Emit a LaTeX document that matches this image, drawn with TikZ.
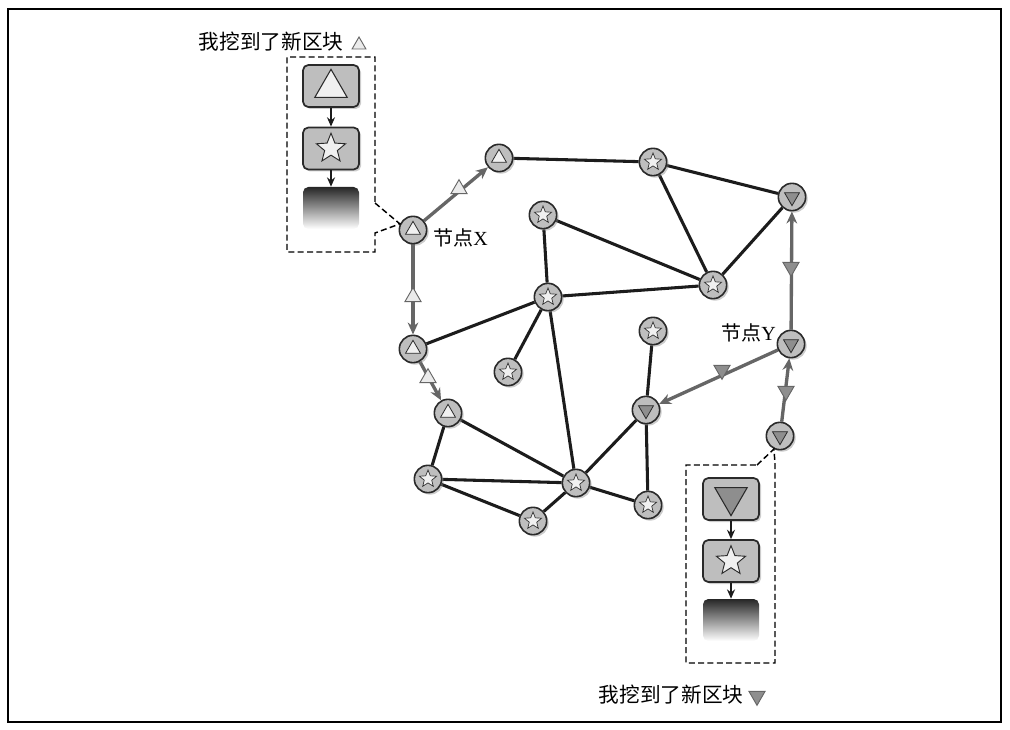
\documentclass[tikz,border=0pt]{standalone}
\usepackage{fontspec}
\setmainfont{Liberation Serif}
\newfontfamily\cjk{Noto Sans CJK SC}
\usetikzlibrary{shapes.geometric,shadows,backgrounds,arrows.meta,calc}

\definecolor{nodegray}{HTML}{BEBEBE}
\definecolor{edgeblack}{HTML}{1C1C1C}
\definecolor{arrowgray}{HTML}{666666}
\definecolor{downgray}{HTML}{8E8E8E}
\definecolor{rimgray}{HTML}{2A2A2A}

\tikzset{
  peer/.style={circle, draw=rimgray, line width=1.2pt, fill=nodegray, minimum size=20.5pt, inner sep=0pt,
    drop shadow={shadow xshift=1.5pt, shadow yshift=-1.5pt, opacity=0.4}},
  upsym/.style={regular polygon, regular polygon sides=3, draw=rimgray, line width=0.6pt, fill=white!94!black, inner sep=0pt, minimum size=#1},
  downsym/.style={regular polygon, regular polygon sides=3, shape border rotate=180, draw=rimgray, line width=0.6pt, fill=downgray, inner sep=0pt, minimum size=#1},
  starsym/.style={star, star points=5, star point ratio=2.3, draw=rimgray, line width=0.5pt, fill=white!94!black, inner sep=0pt, minimum size=#1},
  link/.style={draw=edgeblack, line width=2.3pt},
  prop/.style={draw=arrowgray, line width=2.5pt, -{Stealth[length=9pt,width=8pt]}},
  blockbox/.style={rounded corners=4pt, draw=rimgray, line width=1.3pt, fill=nodegray, minimum width=42pt, minimum height=31.5pt, inner sep=0pt,
    drop shadow={shadow xshift=1.5pt, shadow yshift=-1.5pt, opacity=0.4}},
  fadebox/.style={rounded corners=4pt, top color=black!85, bottom color=white, minimum width=42pt, minimum height=31.5pt, inner sep=0pt},
  chainarrow/.style={draw=edgeblack, line width=1.3pt, -{Stealth[length=7pt,width=6pt]}},
  areabox/.style={draw=black, line width=1.1pt, dash pattern=on 4.5pt off 2.5pt},
  upmark/.style={regular polygon, regular polygon sides=3, draw=arrowgray, line width=0.7pt, fill=white!92!black, inner sep=0pt, minimum size=#1},
  downmark/.style={regular polygon, regular polygon sides=3, shape border rotate=180, draw=arrowgray, line width=0.7pt, fill=downgray, inner sep=0pt, minimum size=#1},
  cjklabel/.style={font=\cjk\fontsize{15.5}{18}\selectfont, inner sep=0pt},
  peerlabel/.style={font=\fontsize{15}{18}\selectfont, inner sep=0pt},
}

\newcommand\peerup[2]{\node[peer] (#1) at (#2) {}; \node[upsym=13pt] (#1s) at (#1) {};}
\newcommand\peerdown[2]{\node[peer] (#1) at (#2) {}; \node[downsym=13pt] (#1s) at (#1) {};}
\newcommand\peerstar[2]{\node[peer] (#1) at (#2) {}; \node[starsym=13.5pt] (#1s) at (#1) {};}

\begin{document}
\begin{tikzpicture}[x=0.75pt,y=-0.75pt]
\useasboundingbox (0,0) rectangle (1010,730);
\draw[line width=0.8pt] (8,9) rectangle (1001,722);

% peers
\peerup{A1}{499,158}
\peerstar{S1}{653,162}
\peerdown{D1}{792,197}
\peerup{X}{413,230}
\peerstar{S2}{543,215}
\peerstar{S3}{713,285}
\peerstar{S4}{548,297}
\peerdown{Y}{791,344}
\peerup{T2}{413,349}
\peerstar{S5}{653,331}
\peerstar{S6}{508,372}
\peerdown{D2}{646,410}
\peerup{T3}{448,413}
\peerdown{D3}{780,436}
\peerstar{S7}{428,479}
\peerstar{S8}{576,483}
\peerstar{S9}{648,505}
\peerstar{S10}{533,521}

\begin{pgfonlayer}{background}
  \draw[link] (A1) -- (S1);
  \draw[link] (S1) -- (D1);
  \draw[link] (S1) -- (S3);
  \draw[link] (D1) -- (S3);
  \draw[link] (S2) -- (S3);
  \draw[link] (S2) -- (S4);
  \draw[link] (S4) -- (S3);
  \draw[link] (S4) -- (T2);
  \draw[link] (S4) -- (S6);
  \draw[link] (S4) -- (S8);
  \draw[link] (S5) -- (D2);
  \draw[link] (D2) -- (S8);
  \draw[link] (D2) -- (S9);
  \draw[link] (T3) -- (S7);
  \draw[link] (T3) -- (S8);
  \draw[link] (S7) -- (S8);
  \draw[link] (S7) -- (S10);
  \draw[link] (S10) -- (S8);
  \draw[link] (S8) -- (S9);
  % propagation
  \draw[prop] (X) -- (A1);
  \draw[prop] (X) -- (T2);
  \draw[prop] (T2) -- (T3);
  \draw[prop] (Y) -- (D1);
  \draw[prop] (Y) -- (D2);
  \draw[prop] (D3) -- (Y);
\end{pgfonlayer}

% markers on propagation arrows
\node[upmark=14pt] (m1) at (459,189) {};
\node[upmark=14pt] (m2) at (413,297) {};
\node[upmark=14pt] (m3) at (428,378) {};
\node[downmark=14pt] (m4) at (791,267) {};
\node[downmark=14pt] (m5) at (722,370) {};
\node[downmark=14pt] (m6) at (786,391) {};

% labels of peers
\node[peerlabel, anchor=west] (lx) at (433,238) {{\cjk 节点}X};
\node[peerlabel, anchor=east] (ly) at (776,333) {{\cjk 节点}Y};

% top-left block chain
\node[blockbox] (b1) at (331,86) {};
\node[upsym=28pt, draw=rimgray, line width=0.8pt] (b1s) at (331,88) {};
\node[blockbox] (b2) at (331,148.5) {};
\node[starsym=23pt, line width=0.7pt] (b2s) at (331,148.5) {};
\node[fadebox] (b3) at (331,208) {};
\draw[chainarrow] (b1) -- (b2);
\draw[chainarrow] (b2) -- (b3);
\draw[areabox] (375,203) -- (X.155) -- (375,233) -- (375,252) -- (287,252) -- (287,57) -- (375,57) -- cycle;
\node[cjklabel] (t1) at (271,42) {我挖到了新区块};
\node[upmark=12pt] (t1m) at (359,45) {};

% bottom-right block chain
\node[blockbox] (c1) at (731,499) {};
\node[downsym=28pt, line width=0.8pt] (c1s) at (731,497) {};
\node[blockbox] (c2) at (731,561) {};
\node[starsym=23pt, line width=0.7pt] (c2s) at (731,561) {};
\node[fadebox] (c3) at (731,620) {};
\draw[chainarrow] (c1) -- (c2);
\draw[chainarrow] (c2) -- (c3);
\draw[areabox] (757,465) -- (D3.245) -- (775,463) -- (775,663) -- (686,663) -- (686,465) -- cycle;
\node[cjklabel] (t2) at (671,695) {我挖到了新区块};
\node[downmark=14pt] (t2m) at (757,696) {};
\end{tikzpicture}
\end{document}
